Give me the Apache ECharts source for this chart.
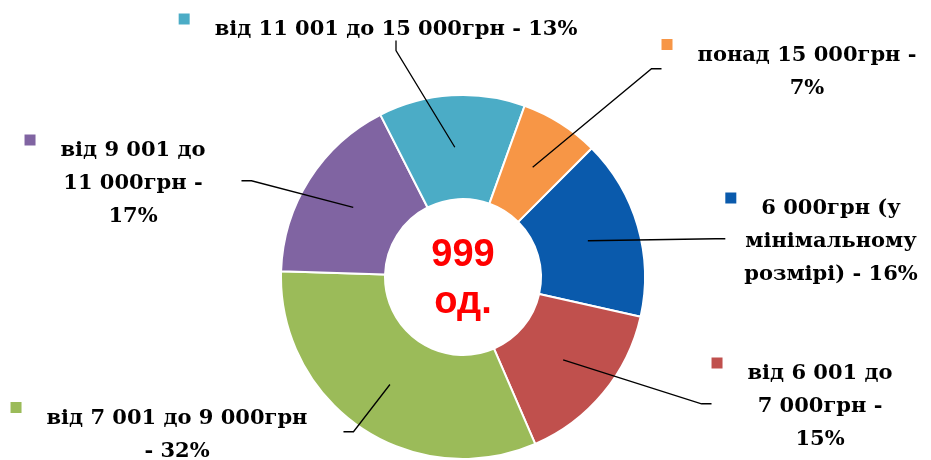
<!DOCTYPE html>
<html>
<head>
<meta charset="utf-8">
<script src="https://cdn.jsdelivr.net/npm/echarts@6/dist/echarts.min.js"></script>
<style>
  html, body { margin: 0; padding: 0; background: #fff; }
  #chart { width: 931px; height: 460px; }
</style>
</head>
<body>
<div id="chart"></div>
<script>
// категорії зарплат і частки, %
const categories = [
  '6 000грн (у мінімальному розмірі)',
  'від 6 001 до 7 000грн',
  'від 7 001 до 9 000грн',
  'від 9 001 до 11 000грн',
  'від 11 001 до 15 000грн',
  'понад 15 000грн'
];
const shares = [16, 15, 32, 17, 13, 7];
// підписи так, як вони переносяться на картинці
const labelLines = [
  ['6 000грн (у', 'мінімальному', 'розмірі) - 16%'],
  ['від 6 001 до', '7 000грн -', '15%'],
  ['від 7 001 до 9 000грн', '- 32%'],
  ['від 9 001 до', '11 000грн -', '17%'],
  ['від 11 001 до 15 000грн - 13%'],
  ['понад 15 000грн -', '7%']
];
const totalText = '999\nод.';

const colors = ['#0A5AAC', '#C0504D', '#9BBB59', '#8064A2', '#4BACC6', '#F79646'];
// де стоять центри підписів (px)
const labelPos = [[831, 242], [820, 407], [177, 435], [133, 184], [396, 30], [807, 72]];

const chart = echarts.init(document.getElementById('chart'));

const rich = {
  t: { align: 'center', fontSize: 21, fontWeight: 'bold', fontFamily: 'DejaVu Serif', color: '#000', lineHeight: 33 },
  g: { width: 25, align: 'left' },
  sp: { width: 36, align: 'right' }
};
colors.forEach((c, i) => {
  rich['sq' + i] = { width: 11, height: 11, backgroundColor: c, align: 'left', verticalAlign: 'top', lineHeight: 33 };
});

const data = categories.map((name, i) => ({ name: name, value: shares[i] }));
const center = [463, 277];

const option = {
  color: colors,
  animation: false,
  series: [
    {
      type: 'pie',
      center: center,
      radius: [78, 182],
      startAngle: 45,
      clockwise: true,
      avoidLabelOverlap: false,
      itemStyle: { borderColor: '#fff', borderWidth: 2 },
      label: { show: false },
      labelLine: { show: false },
      data: data
    },
    {
      // прозора копія — лише для підписів і ліній зсередини кільця
      type: 'pie',
      center: center,
      radius: [0, 130],
      startAngle: 45,
      clockwise: true,
      silent: true,
      z: 5,
      avoidLabelOverlap: false,
      itemStyle: { color: 'rgba(0,0,0,0)', borderWidth: 0 },
      label: {
        show: true,
        position: 'outside',
        formatter: p => labelLines[p.dataIndex]
          .map((l, i) => i === 0 ? `{sq${p.dataIndex}|}{g|}{t|${l}}{sp|}` : `{t|${l}}`)
          .join('\n'),
        rich: rich
      },
      labelLine: {
        show: true,
        length: 10,
        length2: 10,
        minTurnAngle: 0,
        lineStyle: { color: '#000', width: 1.3 }
      },
      labelLayout: p => ({
        x: labelPos[p.dataIndex][0],
        y: labelPos[p.dataIndex][1],
        align: 'center',
        verticalAlign: 'middle'
      }),
      data: data
    }
  ],
  graphic: [{
    type: 'text',
    x: center[0],
    y: 279,
    z: 10,
    style: {
      text: totalText,
      fill: '#FF0000',
      font: 'bold 38px "Liberation Sans"',
      lineHeight: 47,
      textAlign: 'center',
      textVerticalAlign: 'middle'
    }
  }]
};

chart.setOption(option);
window.addEventListener('resize', () => chart.resize());
</script>
</body>
</html>
